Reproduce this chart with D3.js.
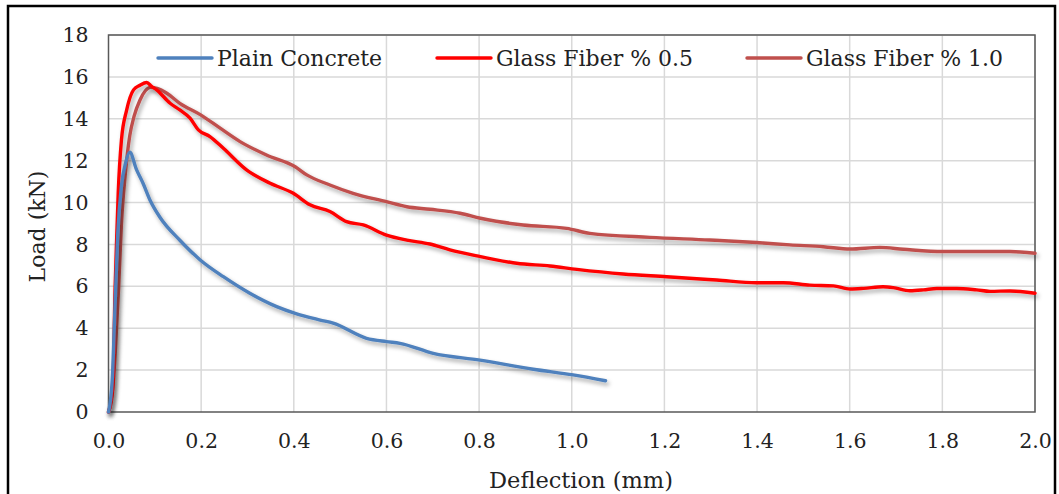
<!DOCTYPE html>
<html>
<head>
<meta charset="utf-8">
<script src="https://cdn.jsdelivr.net/npm/d3@7"></script>
<style>
  body { margin: 0; background: #fff; }
  svg { display: block; font-family: "DejaVu Serif", serif; }
</style>
</head>
<body>
<svg id="chart" width="1059" height="494"></svg>
<script>
// series names and colours
const seriesNames = ["Plain Concrete", "Glass Fiber % 0.5", "Glass Fiber % 1.0"];
const seriesColors = ["#4f81bd", "#ff0000", "#c0504d"];

// [deflection mm, load kN]
const plainConcrete = [
  [0, 0], [0.008, 1.5], [0.014, 5], [0.02, 8.5], [0.028, 10.8], [0.037, 11.9], [0.046, 12.4],
  [0.06, 11.6], [0.075, 10.9], [0.09, 10.1], [0.111, 9.3], [0.154, 8.2], [0.198, 7.26],
  [0.248, 6.46], [0.305, 5.67], [0.363, 5.03], [0.403, 4.71], [0.457, 4.39], [0.485, 4.24],
  [0.557, 3.52], [0.6, 3.36], [0.629, 3.28], [0.701, 2.8], [0.802, 2.48], [0.917, 2.04],
  [1.003, 1.77], [1.073, 1.49]
];
const glassFiber05 = [
  [0, 0], [0.006, 0.6], [0.01, 1.5], [0.014, 5.7], [0.018, 8.5], [0.021, 10.46], [0.028, 13.0],
  [0.039, 14.4], [0.054, 15.38], [0.068, 15.6], [0.0825, 15.73], [0.093, 15.55], [0.104, 15.38],
  [0.133, 14.74], [0.154, 14.42], [0.176, 14.03], [0.194, 13.47], [0.219, 13.15], [0.248, 12.59],
  [0.298, 11.56], [0.349, 10.92], [0.399, 10.44], [0.435, 9.89], [0.478, 9.57], [0.514, 9.09],
  [0.55, 8.93], [0.6, 8.45], [0.644, 8.21], [0.694, 8.02], [0.737, 7.74], [0.803, 7.42],
  [0.881, 7.1], [0.953, 6.97], [1.011, 6.81], [1.111, 6.59], [1.205, 6.46], [1.313, 6.3],
  [1.399, 6.17], [1.457, 6.17], [1.514, 6.06], [1.565, 6.02], [1.601, 5.87], [1.63, 5.9],
  [1.672, 5.98], [1.694, 5.94], [1.73, 5.79], [1.759, 5.83], [1.788, 5.9], [1.831, 5.9],
  [1.874, 5.83], [1.903, 5.76], [1.946, 5.78], [2.0, 5.67]
];
const glassFiber10 = [
  [0, 0], [0.008, 0.8], [0.015, 3.0], [0.022, 6.0], [0.028, 9.0], [0.036, 11.3], [0.046, 13.2],
  [0.055, 14.1], [0.068, 14.9], [0.08, 15.35], [0.09, 15.5], [0.105, 15.45], [0.126, 15.22],
  [0.154, 14.74], [0.198, 14.2], [0.241, 13.55], [0.284, 12.91], [0.341, 12.27], [0.403, 11.71],
  [0.428, 11.32], [0.478, 10.84], [0.528, 10.44], [0.6, 10.04], [0.644, 9.8], [0.694, 9.68],
  [0.759, 9.49], [0.803, 9.25], [0.895, 8.93], [0.989, 8.77], [1.039, 8.53], [1.169, 8.34],
  [1.298, 8.21], [1.399, 8.09], [1.471, 7.98], [1.543, 7.89], [1.601, 7.78], [1.665, 7.86],
  [1.716, 7.77], [1.802, 7.66], [1.888, 7.66], [1.946, 7.66], [2.0, 7.58]
];

const xTicks = [0, 0.2, 0.4, 0.6, 0.8, 1.0, 1.2, 1.4, 1.6, 1.8, 2.0];
const yTicks = [0, 2, 4, 6, 8, 10, 12, 14, 16, 18];

const svg = d3.select("#chart");
const margins = { top: 35, right: 24, bottom: 82, left: 108.5 };
const width = 1059, height = 494;

const x = d3.scaleLinear().domain([0, 2]).range([margins.left, width - margins.right]);
const y = d3.scaleLinear().domain([0, 18]).range([height - margins.bottom, margins.top]);

// outer frame
svg.append("rect")
  .attr("x", 8).attr("y", 6).attr("width", 1047).attr("height", 500)
  .attr("fill", "none").attr("stroke", "#000").attr("stroke-width", 2.5);

// shadow for the lines
const filter = svg.append("defs").append("filter")
  .attr("id", "shadow").attr("x", "-10%").attr("y", "-10%").attr("width", "120%").attr("height", "130%");
filter.append("feDropShadow")
  .attr("dx", 2).attr("dy", 3).attr("stdDeviation", 2)
  .attr("flood-color", "#000").attr("flood-opacity", 0.35);

// grid
svg.append("g")
  .selectAll("line")
  .data(yTicks.slice(1))
  .join("line")
  .attr("x1", x(0)).attr("x2", x(2))
  .attr("y1", d => y(d)).attr("y2", d => y(d))
  .attr("stroke", "#d9d9d9").attr("stroke-width", 1.5);
svg.append("g")
  .selectAll("line")
  .data(xTicks.slice(1))
  .join("line")
  .attr("y1", y(0)).attr("y2", y(18))
  .attr("x1", d => x(d)).attr("x2", d => x(d))
  .attr("stroke", "#d9d9d9").attr("stroke-width", 1.5);

// plot border
svg.append("rect")
  .attr("x", x(0)).attr("y", y(18))
  .attr("width", x(2) - x(0)).attr("height", y(0) - y(18))
  .attr("fill", "none").attr("stroke", "#595959").attr("stroke-width", 1.5);

// axes (labels only)
const gx = svg.append("g")
  .attr("transform", `translate(0,${y(0)})`)
  .call(d3.axisBottom(x).tickValues(xTicks).tickFormat(d3.format(".1f")).tickSize(0).tickPadding(21))
  .call(g => g.select(".domain").remove());
gx.selectAll("text").attr("font-size", 20.5).attr("fill", "#222").attr("font-family", "DejaVu Serif");

const gy = svg.append("g")
  .attr("transform", `translate(${x(0)},0)`)
  .call(d3.axisLeft(y).tickValues(yTicks).tickSize(0).tickPadding(20))
  .call(g => g.select(".domain").remove());
gy.selectAll("text").attr("font-size", 20.5).attr("fill", "#222").attr("font-family", "DejaVu Serif");

// axis titles
svg.append("text")
  .attr("x", 581).attr("y", 488)
  .attr("text-anchor", "middle").attr("font-size", 22.5).attr("fill", "#222")
  .text("Deflection (mm)");
svg.append("text")
  .attr("transform", `translate(45,${(y(0) + y(18)) / 2 + 3}) rotate(-90)`)
  .attr("text-anchor", "middle").attr("font-size", 22).attr("fill", "#222")
  .text("Load (kN)");

// lines
const line = d3.line()
  .x(d => x(d[0]))
  .y(d => y(d[1]))
  .curve(d3.curveMonotoneX);

const allSeries = [plainConcrete, glassFiber05, glassFiber10];
svg.append("g")
  .selectAll("path")
  .data([2, 1, 0])
  .join("path")
  .attr("d", i => line(allSeries[i]))
  .attr("fill", "none")
  .attr("stroke", i => seriesColors[i])
  .attr("stroke-width", 3.4)
  .attr("stroke-linejoin", "round")
  .attr("stroke-linecap", "round")
  .attr("filter", "url(#shadow)");

// legend
const legendX = [158, 437, 747];
const legend = svg.append("g")
  .selectAll("g")
  .data(seriesNames)
  .join("g")
  .attr("transform", (d, i) => `translate(${legendX[i]},58)`);
legend.append("line")
  .attr("x1", 0).attr("x2", 54)
  .attr("stroke", (d, i) => seriesColors[i])
  .attr("stroke-width", 3.4)
  .attr("stroke-linecap", "round");
legend.append("text")
  .attr("x", 59).attr("y", 7.5)
  .attr("font-size", 22).attr("fill", "#222")
  .text(d => d);
</script>
</body>
</html>
